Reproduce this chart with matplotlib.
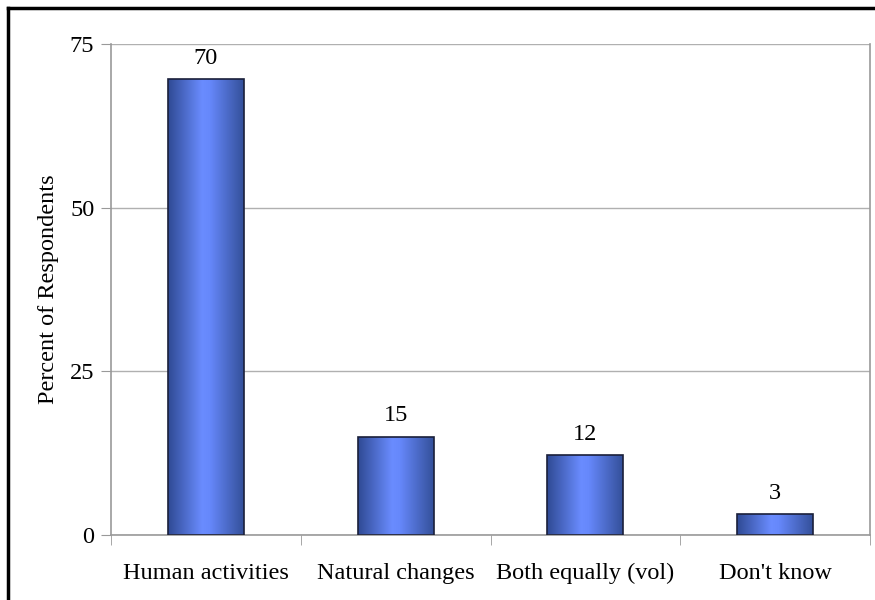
import numpy as np
import matplotlib
matplotlib.use("Agg")
import matplotlib.pyplot as plt
from matplotlib.colors import LinearSegmentedColormap
from matplotlib.lines import Line2D

categories = ["Human activities", "Natural changes", "Both equally (vol)", "Don't know"]
values = [69.6, 15.0, 12.2, 3.2]
labels = ["70", "15", "12", "3"]
yticks = [0, 25, 50, 75]

plt.rcParams['font.family'] = ['Liberation Serif', 'DejaVu Serif']

fig = plt.figure(figsize=(8.75, 6), dpi=100)
ax = fig.add_axes([0.1269, 0.1083, 0.8674, 0.8184])

grad = LinearSegmentedColormap.from_list(
    "bar", [(0, "#2f4a94"), (0.45, "#6a8cff"), (0.55, "#6688fb"), (1, "#34509a")])

x = np.arange(len(categories))
w = 0.40
bars = ax.bar(x, values, width=w, color="none", edgecolor="#1a1f3a", linewidth=1.2, zorder=3)
g = np.linspace(0, 1, 256).reshape(1, -1)
for b in bars:
    im = ax.imshow(g, cmap=grad, aspect="auto", zorder=2,
                   extent=[b.get_x(), b.get_x() + b.get_width(), 0, b.get_height()])
    im.set_clip_path(b)

for xi, v, lab in zip(x, values, labels):
    ax.text(xi, v + 1.6, lab, ha="center", va="bottom", fontsize=17.5)

ax.set_xlim(-0.5, len(categories) - 0.5)
ax.set_ylim(0, 75)
ax.set_yticks(yticks)
ax.set_yticklabels([str(t) for t in yticks], fontsize=17.5)
ax.set_xticks(x)
ax.set_xticklabels(categories, fontsize=17.5)
ax.set_xticks(np.arange(len(categories) + 1) - 0.5, minor=True)
ax.tick_params(axis="x", which="major", length=0, pad=20)
ax.tick_params(axis="x", which="minor", length=7, color="#999999")
ax.tick_params(axis="y", length=7, color="#999999", pad=5)
ax.yaxis.grid(True, color="#b0b0b0", linewidth=1, zorder=0)
ax.set_axisbelow(True)
for s in ["left", "bottom", "right"]:
    ax.spines[s].set_color("#999999")
    ax.spines[s].set_linewidth(1.2)
ax.spines["top"].set_visible(False)
ax.set_ylabel("Percent of Respondents", fontsize=17.5, labelpad=8)

fig.add_artist(Line2D([8 / 875, 1], [1 - 7.5 / 600, 1 - 7.5 / 600], color="black", linewidth=2.5))
fig.add_artist(Line2D([8 / 875, 8 / 875], [0, 1 - 7.5 / 600], color="black", linewidth=2.5))

fig.savefig("out.png", dpi=100)
